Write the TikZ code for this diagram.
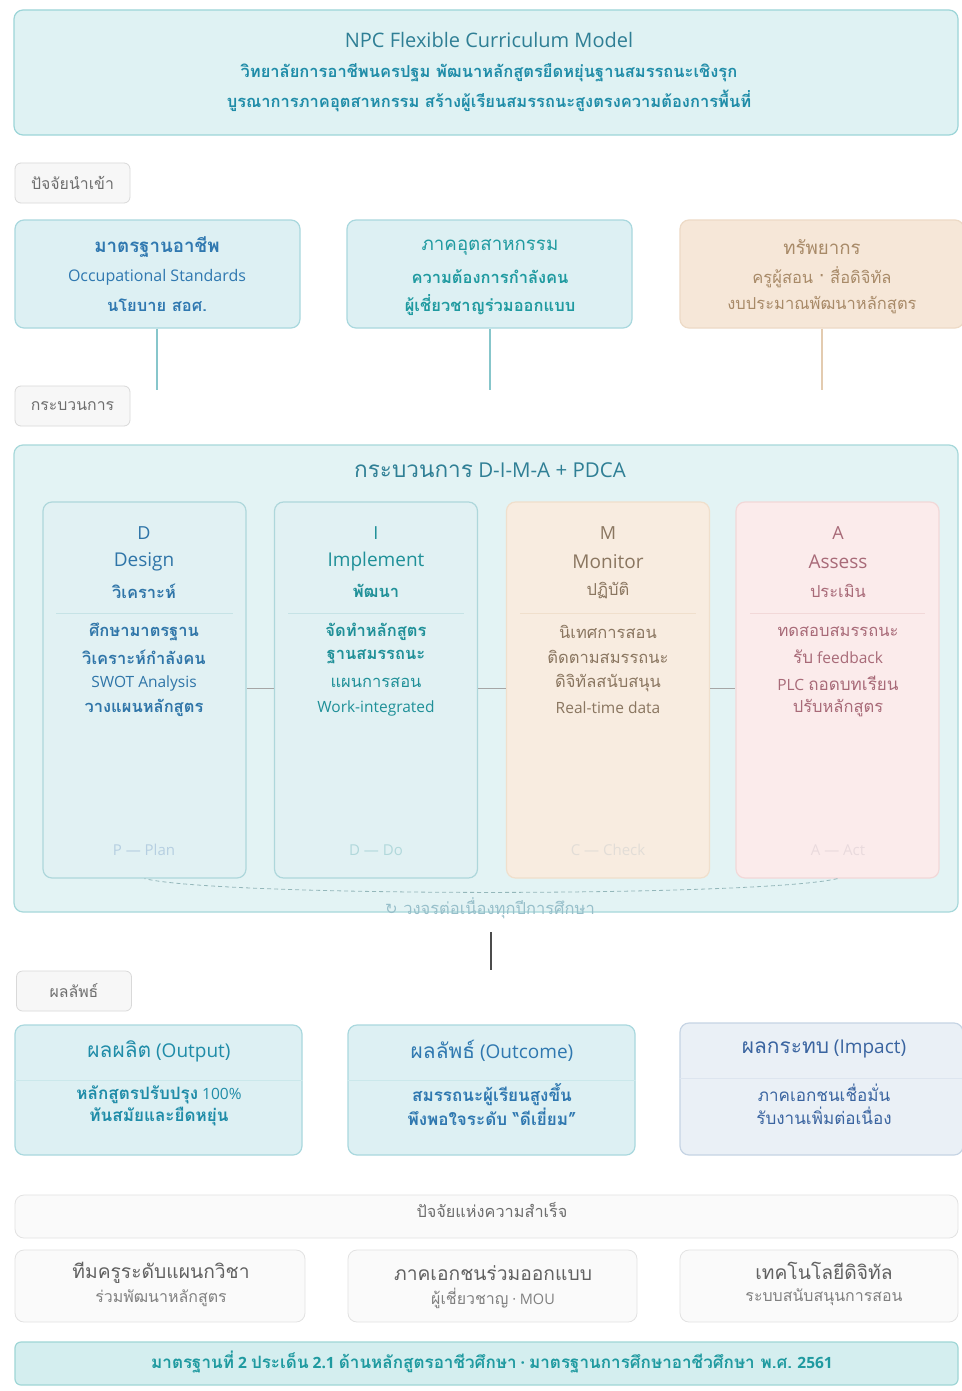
\documentclass[tikz,border=0pt]{standalone}
\usepackage{fontspec}
\setmainfont{Open Sans}
\newfontfamily\thf[Script=Thai,Scale=1.1]{Loma}
\newfontfamily\symf{DejaVu Sans}
\definecolor{hdrfill}{HTML}{DFF2F3}
\definecolor{hdrdraw}{HTML}{9CD5D8}
\definecolor{hdrtitle}{HTML}{2F7F95}
\definecolor{hdrsub}{HTML}{1F8CA8}
\definecolor{labfill}{HTML}{F7F7F7}
\definecolor{labdraw}{HTML}{D9D9D9}
\definecolor{labtext}{HTML}{6E6E6E}
\definecolor{bluefill}{HTML}{DDF0F3}
\definecolor{bluedraw}{HTML}{A9D8DE}
\definecolor{bluetext}{HTML}{2F78B0}
\definecolor{tealtext}{HTML}{1F9AA0}
\definecolor{tanfill}{HTML}{F6E7D8}
\definecolor{tandraw}{HTML}{EDDAC6}
\definecolor{tantext}{HTML}{A88A68}
\definecolor{tanline}{HTML}{E3CBB0}
\definecolor{procfill}{HTML}{E3F3F4}
\definecolor{procdraw}{HTML}{A6D8DA}
\definecolor{innerfill}{HTML}{E1F1F3}
\definecolor{innerdraw}{HTML}{AED7DB}
\definecolor{mfill}{HTML}{F8ECE0}
\definecolor{mdraw}{HTML}{F0DFCC}
\definecolor{afill}{HTML}{FBEBEB}
\definecolor{adraw}{HTML}{F2D8D8}
\definecolor{dtext}{HTML}{2F75A8}
\definecolor{itext}{HTML}{1F9098}
\definecolor{mtext}{HTML}{8A7660}
\definecolor{atext}{HTML}{A86A78}
\definecolor{imptfill}{HTML}{EAF0F6}
\definecolor{imptdraw}{HTML}{C6D4E4}
\definecolor{impttext}{HTML}{3A64A0}
\definecolor{sffill}{HTML}{FAFAFA}
\definecolor{sfdraw}{HTML}{E2E2E2}
\definecolor{foofill}{HTML}{D4EEEF}
\definecolor{foodraw}{HTML}{9FD6D6}
\tikzset{
  box/.style={rounded corners=9pt, line width=1.2pt, inner sep=0pt},
  hdrbox/.style={box, fill=hdrfill, draw=hdrdraw},
  labbox/.style={box, rounded corners=6pt, line width=0.8pt, fill=labfill, draw=labdraw, minimum width=115pt, minimum height=40pt, text=labtext, font=\thf\fontsize{14.4}{16}\selectfont},
  bluebox/.style={box, fill=bluefill, draw=bluedraw},
  tanbox/.style={box, fill=tanfill, draw=tandraw},
  procbox/.style={box, fill=procfill, draw=procdraw},
  dibox/.style={box, fill=innerfill, draw=innerdraw, minimum width=203pt, minimum height=376pt},
  mbox/.style={box, fill=mfill, draw=mdraw, minimum width=203pt, minimum height=376pt},
  abox/.style={box, fill=afill, draw=adraw, minimum width=203pt, minimum height=376pt},
  imptbox/.style={box, fill=imptfill, draw=imptdraw},
  sfbox/.style={box, fill=sffill, draw=sfdraw, line width=0.8pt},
  foobox/.style={box, rounded corners=6pt, fill=foofill, draw=foodraw},
  txt/.style={inner sep=0pt, anchor=center, align=center},
  sep/.style={line width=0.6pt},
  conn/.style={line width=1.6pt}
}
\begin{document}
\begin{tikzpicture}[x=1pt,y=-1pt]
\useasboundingbox[fill=white] (0,0) rectangle (961,1391);

% ---------- header ----------
\node[hdrbox, minimum width=944pt, minimum height=125pt] (head) at (486,72.5) {};
\node[txt, text=hdrtitle, font=\fontsize{20}{24}\selectfont] (htitle) at (489,40) {NPC Flexible Curriculum Model};
\node[txt, text=hdrsub, font=\thf\bfseries\fontsize{15}{18}\selectfont] (hs1) at (489,73) {วิทยาลัยการอาชีพนครปฐม พัฒนาหลักสูตรยืดหยุ่นฐานสมรรถนะเชิงรุก};
\node[txt, text=hdrsub, font=\thf\bfseries\fontsize{15}{18}\selectfont] (hs2) at (489,101) {บูรณาการภาคอุตสาหกรรม สร้างผู้เรียนสมรรถนะสูงตรงความต้องการพื้นที่};

% ---------- inputs ----------
\node[labbox] (lab1) at (72.5,183) {ปัจจัยนำเข้า};

\node[bluebox, minimum width=285pt, minimum height=108pt] (in1) at (157.5,274) {};
\node[txt, text=bluetext, font=\thf\bfseries\fontsize{17}{21}\selectfont] (in1a) at (157,247) {มาตรฐานอาชีพ};
\node[txt, text=bluetext, font=\fontsize{16}{19}\selectfont] (in1b) at (157,277) {Occupational Standards};
\node[txt, text=bluetext, font=\thf\bfseries\fontsize{15}{18}\selectfont] (in1c) at (157,305) {นโยบาย สอศ.};

\node[bluebox, minimum width=285pt, minimum height=108pt] (in2) at (489.5,274) {};
\node[txt, text=tealtext, font=\thf\fontsize{17}{21}\selectfont] (in2a) at (490,247) {ภาคอุตสาหกรรม};
\node[txt, text=tealtext, font=\thf\bfseries\fontsize{15}{18}\selectfont] (in2b) at (490,277) {ความต้องการกำลังคน};
\node[txt, text=tealtext, font=\thf\bfseries\fontsize{15}{18}\selectfont] (in2c) at (490,305) {ผู้เชี่ยวชาญร่วมออกแบบ};

\node[tanbox, minimum width=284pt, minimum height=108pt] (in3) at (822,274) {};
\node[txt, text=tantext, font=\thf\fontsize{17}{21}\selectfont] (in3a) at (822,247) {ทรัพยากร};
\node[txt, text=tantext, font=\thf\fontsize{15}{18}\selectfont] (in3b) at (822,277) {ครูผู้สอน · สื่อดิจิทัล};
\node[txt, text=tantext, font=\thf\fontsize{15}{18}\selectfont] (in3c) at (822,305) {งบประมาณพัฒนาหลักสูตร};

\coordinate (e1) at (157,390);
\coordinate (e2) at (490,390);
\coordinate (e3) at (822,390);
\draw[conn, draw=bluedraw!80!teal] (in1.south -| e1) -- (e1);
\draw[conn, draw=bluedraw!80!teal] (in2.south -| e2) -- (e2);
\draw[conn, draw=tanline] (in3.south -| e3) -- (e3);

% ---------- process ----------
\node[labbox] (lab2) at (72.5,406) {กระบวนการ};

\node[procbox, minimum width=944pt, minimum height=467pt] (proc) at (486,678.5) {};
\node[txt, text=hdrtitle, font=\fontsize{20.5}{24}\selectfont] (ptitle) at (490,470) {{\thf กระบวนการ} D-I-M-A + PDCA};

\node[dibox] (D) at (144.5,690) {};
\node[dibox] (I) at (376,690) {};
\node[mbox] (M) at (608,690) {};
\node[abox] (A) at (837.5,690) {};

\draw[sep, draw=black!35] (D.east |- 0,688) -- (I.west |- 0,688);
\draw[sep, draw=black!35] (I.east |- 0,688) -- (M.west |- 0,688);
\draw[sep, draw=black!35] (M.east |- 0,688) -- (A.west |- 0,688);

\draw[sep, draw=innerdraw!70] (56,613) -- (233,613);
\draw[sep, draw=innerdraw!70] (288,613) -- (464,613);
\draw[sep, draw=mdraw] (520,613) -- (696,613);
\draw[sep, draw=adraw] (750,613) -- (925,613);

% D
\node[txt, text=dtext, font=\fontsize{18}{21}\selectfont] (Da) at (144,533) {D};
\node[txt, text=dtext, font=\fontsize{19}{22}\selectfont] (Db) at (144,562) {Design};
\node[txt, text=dtext, font=\thf\bfseries\fontsize{15}{18}\selectfont] (Dc) at (144,591) {วิเคราะห์};
\node[txt, text=dtext, font=\thf\bfseries\fontsize{15}{18}\selectfont] (Dd) at (144,632) {ศึกษามาตรฐาน};
\node[txt, text=dtext, font=\thf\bfseries\fontsize{15}{18}\selectfont] (De) at (144,657) {วิเคราะห์กำลังคน};
\node[txt, text=dtext, font=\fontsize{15.5}{18}\selectfont] (Df) at (144,683) {SWOT Analysis};
\node[txt, text=dtext, font=\thf\bfseries\fontsize{15}{18}\selectfont] (Dg) at (144,708) {วางแผนหลักสูตร};
\node[txt, text=dtext!35, font=\fontsize{15}{18}\selectfont] (Dh) at (144,850) {P — Plan};

% I
\node[txt, text=itext, font=\fontsize{18}{21}\selectfont] (Ia) at (376,533) {I};
\node[txt, text=itext, font=\fontsize{19}{22}\selectfont] (Ib) at (376,562) {Implement};
\node[txt, text=itext, font=\thf\bfseries\fontsize{15}{18}\selectfont] (Ic) at (376,591) {พัฒนา};
\node[txt, text=itext, font=\thf\bfseries\fontsize{15}{18}\selectfont] (Id) at (376,632) {จัดทำหลักสูตร};
\node[txt, text=itext, font=\thf\bfseries\fontsize{15}{18}\selectfont] (Ie) at (376,657) {ฐานสมรรถนะ};
\node[txt, text=itext, font=\thf\fontsize{15}{18}\selectfont] (If) at (376,683) {แผนการสอน};
\node[txt, text=itext, font=\fontsize{15.5}{18}\selectfont] (Ig) at (376,708) {Work-integrated};
\node[txt, text=itext!35, font=\fontsize{15}{18}\selectfont] (Ih) at (376,850) {D — Do};

% M
\node[txt, text=mtext, font=\fontsize{18}{21}\selectfont] (Ma) at (608,533) {M};
\node[txt, text=mtext, font=\fontsize{19}{22}\selectfont] (Mb) at (608,562) {Monitor};
\node[txt, text=mtext, font=\thf\fontsize{15}{18}\selectfont] (Mc) at (608,591) {ปฏิบัติ};
\node[txt, text=mtext, font=\thf\fontsize{15}{18}\selectfont] (Md) at (608,632) {นิเทศการสอน};
\node[txt, text=mtext, font=\thf\fontsize{15}{18}\selectfont] (Me) at (608,657) {ติดตามสมรรถนะ};
\node[txt, text=mtext, font=\thf\fontsize{15}{18}\selectfont] (Mf) at (608,683) {ดิจิทัลสนับสนุน};
\node[txt, text=mtext, font=\fontsize{15.5}{18}\selectfont] (Mg) at (608,708) {Real-time data};
\node[txt, text=mtext!25, font=\fontsize{15}{18}\selectfont] (Mh) at (608,850) {C — Check};

% A
\node[txt, text=atext, font=\fontsize{18}{21}\selectfont] (Aa) at (838,533) {A};
\node[txt, text=atext, font=\fontsize{19}{22}\selectfont] (Ab) at (838,562) {Assess};
\node[txt, text=atext, font=\thf\fontsize{15}{18}\selectfont] (Ac) at (838,591) {ประเมิน};
\node[txt, text=atext, font=\thf\fontsize{15}{18}\selectfont] (Ad) at (838,632) {ทดสอบสมรรถนะ};
\node[txt, text=atext, font=\fontsize{15.5}{18}\selectfont] (Ae) at (838,657) {{\thf รับ} feedback};
\node[txt, text=atext, font=\fontsize{15.5}{18}\selectfont] (Af) at (838,683) {PLC {\thf ถอดบทเรียน}};
\node[txt, text=atext, font=\thf\fontsize{15}{18}\selectfont] (Ag) at (838,708) {ปรับหลักสูตร};
\node[txt, text=atext!25, font=\fontsize{15}{18}\selectfont] (Ah) at (838,850) {A — Act};

\draw[line width=0.8pt, dash pattern=on 4pt off 3pt, draw=innerdraw!85!black] (A.south) .. controls (760,897) and (220,897) .. (D.south);
\node[txt, text=hdrtitle!50, font=\thf\fontsize{15}{17}\selectfont] (loop) at (490,908) {{\symf ↻} วงจรต่อเนื่องทุกปีการศึกษา};

\coordinate (pa) at (491,932);
\coordinate (pb) at (491,970);
\draw[line width=1.2pt, draw=black!70] (pa) -- (pb);

% ---------- outcomes ----------
\node[labbox] (lab3) at (74,991) {ผลลัพธ์};

\node[bluebox, minimum width=287pt, minimum height=130pt] (out1) at (158.5,1090) {};
\node[txt, text=hdrsub, font=\fontsize{19}{22}\selectfont] (o1a) at (159,1051) {{\thf ผลผลิต} (Output)};
\draw[sep, draw=bluedraw!60] (out1.west |- 0,1080) -- (out1.east |- 0,1080);
\node[txt, text=hdrsub, font=\fontsize{15.5}{18}\selectfont] (o1b) at (159,1095) {{\thf\bfseries หลักสูตรปรับปรุง} 100\%};
\node[txt, text=hdrsub, font=\thf\bfseries\fontsize{15.5}{18}\selectfont] (o1c) at (159,1117) {ทันสมัยและยืดหยุ่น};

\node[bluebox, minimum width=287pt, minimum height=130pt] (out2) at (491.5,1090) {};
\node[txt, text=bluetext, font=\fontsize{19}{22}\selectfont] (o2a) at (492,1051) {{\thf ผลลัพธ์} (Outcome)};
\draw[sep, draw=bluedraw!60] (out2.west |- 0,1080) -- (out2.east |- 0,1080);
\node[txt, text=bluetext, font=\thf\bfseries\fontsize{15.5}{18}\selectfont] (o2b) at (492,1095) {สมรรถนะผู้เรียนสูงขึ้น};
\node[txt, text=bluetext, font=\thf\bfseries\fontsize{15.5}{18}\selectfont] (o2c) at (492,1117) {พึงพอใจระดับ “ดีเยี่ยม”};

\node[imptbox, minimum width=283pt, minimum height=132pt] (out3) at (821.5,1089) {};
\node[txt, text=impttext, font=\fontsize{19}{22}\selectfont] (o3a) at (824,1049) {{\thf ผลกระทบ} (Impact)};
\draw[sep, draw=imptdraw!60] (out3.west |- 0,1078) -- (out3.east |- 0,1078);
\node[txt, text=impttext, font=\thf\fontsize{15.5}{18}\selectfont] (o3b) at (824,1093) {ภาคเอกชนเชื่อมั่น};
\node[txt, text=impttext, font=\thf\fontsize{15.5}{18}\selectfont] (o3c) at (824,1116) {รับงานเพิ่มต่อเนื่อง};

% ---------- success factors ----------
\node[sfbox, minimum width=943pt, minimum height=43pt] (sf) at (486.5,1216.5) {};
\node[txt, text=labtext, font=\thf\fontsize{14.8}{17}\selectfont] (sft) at (492,1210) {ปัจจัยแห่งความสำเร็จ};

\node[sfbox, minimum width=290pt, minimum height=72pt] (f1) at (160,1286) {};
\node[txt, text=black!62, font=\thf\fontsize{17.5}{21}\selectfont] (f1a) at (161,1273) {ทีมครูระดับแผนกวิชา};
\node[txt, text=black!50, font=\thf\fontsize{14.5}{17}\selectfont] (f1b) at (161,1298) {ร่วมพัฒนาหลักสูตร};

\node[sfbox, minimum width=289pt, minimum height=72pt] (f2) at (492.5,1286) {};
\node[txt, text=black!62, font=\thf\fontsize{17.5}{21}\selectfont] (f2a) at (493,1273) {ภาคเอกชนร่วมออกแบบ};
\node[txt, text=black!50, font=\fontsize{14.5}{17}\selectfont] (f2b) at (493,1298) {{\thf ผู้เชี่ยวชาญ} · MOU};

\node[sfbox, minimum width=278pt, minimum height=72pt] (f3) at (819,1286) {};
\node[txt, text=black!62, font=\thf\fontsize{17.5}{21}\selectfont] (f3a) at (824,1271) {เทคโนโลยีดิจิทัล};
\node[txt, text=black!50, font=\thf\fontsize{14.5}{17}\selectfont] (f3b) at (824,1297) {ระบบสนับสนุนการสอน};

% ---------- footer ----------
\node[foobox, minimum width=943pt, minimum height=43pt] (foot) at (486.5,1363.5) {};
\node[txt, text=tealtext, font=\fontsize{15.5}{18}\selectfont\bfseries] (ft) at (492,1362) {{\thf มาตรฐานที่} 2 {\thf ประเด็น} 2.1 {\thf ด้านหลักสูตรอาชีวศึกษา} · {\thf มาตรฐานการศึกษาอาชีวศึกษา พ.ศ.} 2561};
\end{tikzpicture}
\end{document}
